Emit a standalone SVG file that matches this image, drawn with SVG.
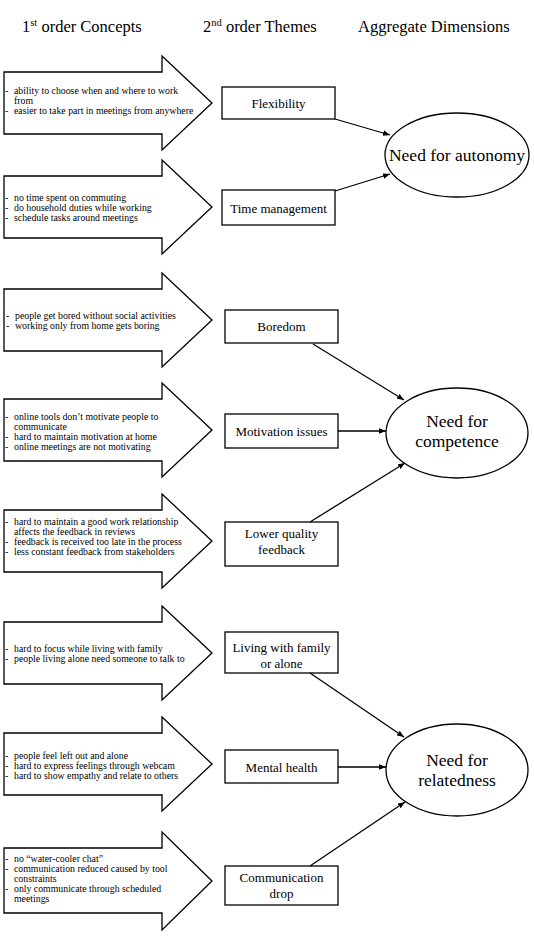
<svg xmlns="http://www.w3.org/2000/svg" width="534" height="949" viewBox="0 0 534 949">
<defs>
<style>
text{font-family:"Liberation Serif","Times New Roman",serif;fill:#000}
.hdr{font-size:16.5px}
.sup{font-size:10.5px}
.c{font-size:9.8px}
.t{font-size:13px;text-anchor:middle}
.e{font-size:17.5px;text-anchor:middle}
.shape{fill:#fff;stroke:#000;stroke-width:1.3}
.conn{stroke:#000;stroke-width:1.3;fill:none;marker-end:url(#ah)}
</style>
<marker id="ah" viewBox="0 0 10 10" refX="10" refY="5" markerWidth="7" markerHeight="7" markerUnits="userSpaceOnUse" orient="auto">
<path d="M0,1 L10,5 L0,9 Z" fill="#000"/>
</marker>
</defs>
<rect width="534" height="949" fill="#fff"/>

<g id="headers">
<text class="hdr" x="22" y="32">1<tspan class="sup" dy="-6">st</tspan><tspan dy="6"> order Concepts</tspan></text>
<text class="hdr" x="203" y="32">2<tspan class="sup" dy="-6">nd</tspan><tspan dy="6"> order Themes</tspan></text>
<text class="hdr" x="358" y="32">Aggregate Dimensions</text>
</g>

<g id="concept1">
<path class="shape" d="M4,72 H162 V56 L212,103 L162,150 V134 H4 Z"/>
<text class="c" y="94.3"><tspan x="5">-</tspan><tspan x="14">ability to choose when and where to work</tspan></text>
<text class="c" x="14" y="104.3">from</text>
<text class="c" y="114.3"><tspan x="5">-</tspan><tspan x="14">easier to take part in meetings from anywhere</tspan></text>
</g>
<g id="concept2">
<path class="shape" d="M4,176 H162 V160 L212,207 L162,254 V238 H4 Z"/>
<text class="c" y="200.7"><tspan x="5">-</tspan><tspan x="14">no time spent on commuting</tspan></text>
<text class="c" y="210.7"><tspan x="5">-</tspan><tspan x="14">do household duties while working</tspan></text>
<text class="c" y="220.7"><tspan x="5">-</tspan><tspan x="14">schedule tasks around meetings</tspan></text>
</g>
<g id="concept3">
<path class="shape" d="M4,289 H162 V273 L212,320 L162,367 V351 H4 Z"/>
<text class="c" y="318.5"><tspan x="6">-</tspan><tspan x="15">people get bored without social activities</tspan></text>
<text class="c" y="328.5"><tspan x="6">-</tspan><tspan x="15">working only from home gets boring</tspan></text>
</g>
<g id="concept4">
<path class="shape" d="M4,399 H162 V383 L212,430 L162,477 V461 H4 Z"/>
<text class="c" y="420"><tspan x="5">-</tspan><tspan x="14">online tools don’t motivate people to</tspan></text>
<text class="c" x="14" y="430">communicate</text>
<text class="c" y="440"><tspan x="5">-</tspan><tspan x="14">hard to maintain motivation at home</tspan></text>
<text class="c" y="450"><tspan x="5">-</tspan><tspan x="14">online meetings are not motivating</tspan></text>
</g>
<g id="concept5">
<path class="shape" d="M4,510 H162 V494 L212,541 L162,588 V572 H4 Z"/>
<text class="c" y="524.5"><tspan x="5">-</tspan><tspan x="14">hard to maintain a good work relationship</tspan></text>
<text class="c" x="14" y="534.5">affects the feedback in reviews</text>
<text class="c" y="544.5"><tspan x="5">-</tspan><tspan x="14">feedback is received too late in the process</tspan></text>
<text class="c" y="554.5"><tspan x="5">-</tspan><tspan x="14">less constant feedback from stakeholders</tspan></text>
</g>
<g id="concept6">
<path class="shape" d="M4,622 H162 V606 L212,653 L162,700 V684 H4 Z"/>
<text class="c" y="651.5"><tspan x="5">-</tspan><tspan x="14">hard to focus while living with family</tspan></text>
<text class="c" y="661.5"><tspan x="5">-</tspan><tspan x="14">people living alone need someone to talk to</tspan></text>
</g>
<g id="concept7">
<path class="shape" d="M4,733 H162 V717 L212,764 L162,811 V795 H4 Z"/>
<text class="c" y="758.7"><tspan x="5">-</tspan><tspan x="14">people feel left out and alone</tspan></text>
<text class="c" y="768.7"><tspan x="5">-</tspan><tspan x="14">hard to express feelings through webcam</tspan></text>
<text class="c" y="778.7"><tspan x="5">-</tspan><tspan x="14">hard to show empathy and relate to others</tspan></text>
</g>
<g id="concept8">
<path class="shape" d="M4,848 H162 V832 L212,881 L162,930 V913 H4 Z"/>
<text class="c" y="861.8"><tspan x="5">-</tspan><tspan x="14">no “water-cooler chat”</tspan></text>
<text class="c" y="871.8"><tspan x="5">-</tspan><tspan x="14">communication reduced caused by tool</tspan></text>
<text class="c" x="14" y="881.8">constraints</text>
<text class="c" y="891.8"><tspan x="5">-</tspan><tspan x="14">only communicate through scheduled</tspan></text>
<text class="c" x="14" y="901.8">meetings</text>
</g>

<g id="theme-flexibility">
<rect class="shape" x="222" y="87" width="113" height="32"/>
<text class="t" x="278.5" y="107.5">Flexibility</text>
</g>
<g id="theme-time">
<rect class="shape" x="222" y="190" width="113" height="35"/>
<text class="t" x="278.5" y="212.5">Time management</text>
</g>
<g id="theme-boredom">
<rect class="shape" x="225" y="310" width="113" height="33"/>
<text class="t" x="281.5" y="331">Boredom</text>
</g>
<g id="theme-motivation">
<rect class="shape" x="225" y="414" width="113" height="34"/>
<text class="t" x="281.5" y="435.5">Motivation issues</text>
</g>
<g id="theme-feedback">
<rect class="shape" x="225" y="522" width="113" height="44"/>
<text class="t" x="281.5" y="537.5">Lower quality</text>
<text class="t" x="281.5" y="553.5">feedback</text>
</g>
<g id="theme-living">
<rect class="shape" x="225" y="632" width="113" height="41"/>
<text class="t" x="281.5" y="651.5">Living with family</text>
<text class="t" x="281.5" y="668">or alone</text>
</g>
<g id="theme-mental">
<rect class="shape" x="225" y="750" width="113" height="33"/>
<text class="t" x="281.5" y="771.5">Mental health</text>
</g>
<g id="theme-communication">
<rect class="shape" x="225" y="866" width="113" height="39"/>
<text class="t" x="281.5" y="881.5">Communication</text>
<text class="t" x="281.5" y="897.5">drop</text>
</g>

<g id="dim-autonomy">
<ellipse class="shape" cx="457" cy="155" rx="72" ry="42"/>
<text class="e" x="457" y="161">Need for autonomy</text>
</g>
<g id="dim-competence">
<ellipse class="shape" cx="457" cy="433" rx="71" ry="45"/>
<text class="e" x="457" y="427">Need for</text>
<text class="e" x="457" y="447">competence</text>
</g>
<g id="dim-relatedness">
<ellipse class="shape" cx="457" cy="770" rx="71" ry="46"/>
<text class="e" x="457" y="766">Need for</text>
<text class="e" x="457" y="786">relatedness</text>
</g>

<g id="connectors">
<line class="conn" x1="335" y1="119" x2="390" y2="135"/>
<line class="conn" x1="335" y1="191" x2="390" y2="174"/>
<line class="conn" x1="313" y1="344" x2="404" y2="400"/>
<line class="conn" x1="338" y1="431" x2="386" y2="431"/>
<line class="conn" x1="310" y1="522" x2="405" y2="463"/>
<line class="conn" x1="310" y1="673" x2="404" y2="737"/>
<line class="conn" x1="338" y1="767" x2="386" y2="767"/>
<line class="conn" x1="310" y1="866" x2="405" y2="802"/>
</g>
</svg>
